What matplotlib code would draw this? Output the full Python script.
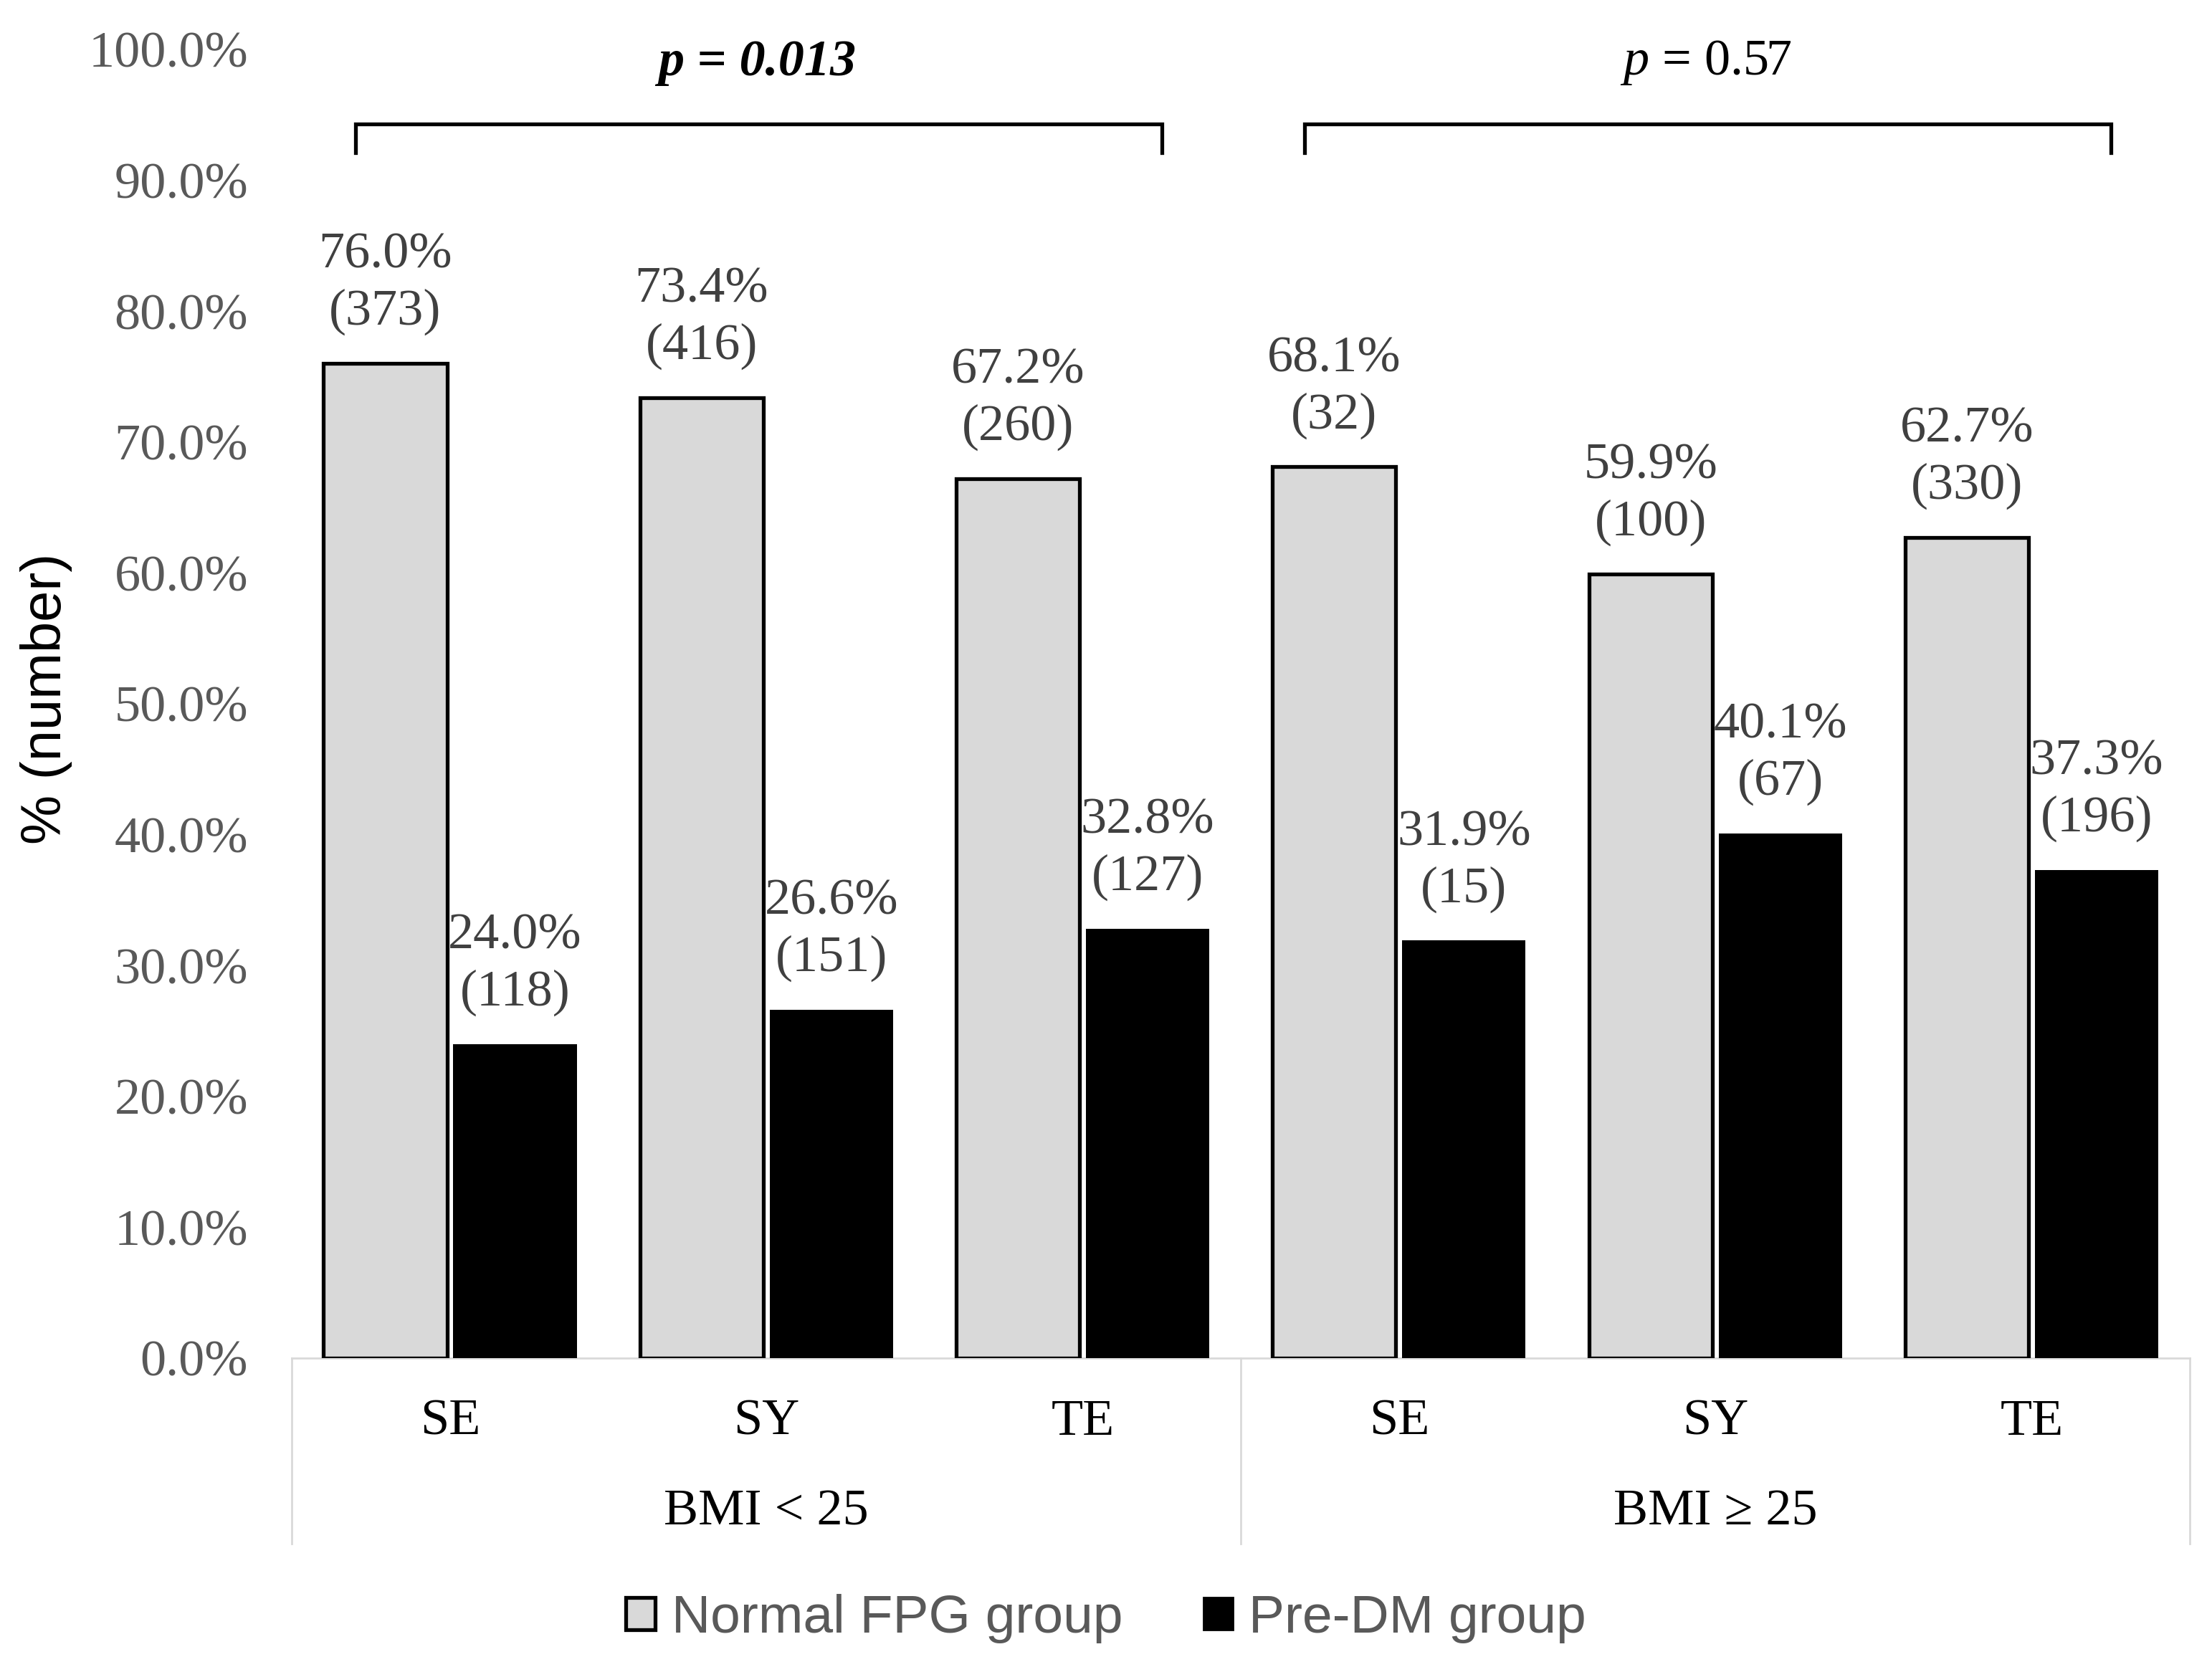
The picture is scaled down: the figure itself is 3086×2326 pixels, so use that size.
import matplotlib.pyplot as plt
from matplotlib.patches import Patch

# datos
grupos = ['BMI < 25', 'BMI \u2265 25']
categorias = ['SE', 'SY', 'TE', 'SE', 'SY', 'TE']
normal_pct = [76.0, 73.4, 67.2, 68.1, 59.9, 62.7]
normal_n = [373, 416, 260, 32, 100, 330]
predm_pct = [24.0, 26.6, 32.8, 31.9, 40.1, 37.3]
predm_n = [118, 151, 127, 15, 67, 196]
p_valores = ['0.013', '0.57']
p_significativo = [True, False]

SERIF = 'Liberation Serif'
SANS = 'Liberation Sans'
GRIS = '#d9d9d9'
plt.rcParams['mathtext.fontset'] = 'custom'
plt.rcParams['mathtext.rm'] = SERIF
plt.rcParams['mathtext.it'] = SERIF + ':italic'

fig = plt.figure(figsize=(15.43, 11.63), dpi=200, facecolor='white')
ax = fig.add_axes([0.132, 0.1853, 0.858, 0.7851])

x = list(range(len(categorias)))
ancho = 0.39
desp = 0.205
TAM = 26

ax.bar([i - desp for i in x], normal_pct, width=ancho, color=GRIS,
       edgecolor='black', linewidth=1.9, zorder=3)
ax.bar([i + desp for i in x], predm_pct, width=ancho, color='black',
       edgecolor='none', zorder=3)

# etiquetas de datos
for i in x:
    ax.annotate(f"{normal_pct[i]:.1f}%\n({normal_n[i]})", (i - desp, normal_pct[i]),
                xytext=(0, 14), textcoords='offset points', ha='center', va='bottom',
                fontsize=TAM, family=SERIF, color='#404040', linespacing=1.28)
    ax.annotate(f"{predm_pct[i]:.1f}%\n({predm_n[i]})", (i + desp, predm_pct[i]),
                xytext=(0, 14), textcoords='offset points', ha='center', va='bottom',
                fontsize=TAM, family=SERIF, color='#404040', linespacing=1.28)

ax.set_xlim(-0.5, len(categorias) - 0.5)
ax.set_ylim(0, 100)
ax.set_yticks(range(0, 101, 10))
ax.set_yticklabels([f"{v:.1f}%" for v in range(0, 101, 10)])
ax.tick_params(axis='y', length=0, pad=22, labelsize=TAM, labelcolor='#595959')
for lab in ax.get_yticklabels():
    lab.set_family(SERIF)
ax.set_xticks([])
for s in ['top', 'right', 'left']:
    ax.spines[s].set_visible(False)
ax.spines['bottom'].set_color(GRIS)
ax.spines['bottom'].set_linewidth(1.0)

# ejes de categorias agrupadas
trans = ax.get_xaxis_transform()
for sep in [-0.5, 2.5, 5.5]:
    ax.plot([sep, sep], [0, -0.142], transform=trans, color=GRIS, lw=1.0, clip_on=False)
for i, c in enumerate(categorias):
    ax.text(i, -0.049, c, transform=trans, ha='center', va='center',
            fontsize=TAM, family=SERIF, color='black')
for g, nombre in enumerate(grupos):
    ax.text(g * 3 + 1, -0.118, nombre, transform=trans, ha='center', va='center',
            fontsize=TAM, family=SERIF, color='black')

# corchetes y valores p
for g in range(len(grupos)):
    izq = g * 3 - 0.3
    der = g * 3 + 2.25
    ax.plot([izq, izq, der, der], [92.1, 94.3, 94.3, 92.1], color='black', lw=1.9,
            clip_on=False, solid_joinstyle='miter')
    cx = (izq + der) / 2 - 0.005
    if p_significativo[g]:
        ax.text(cx, 99.0, f"p = {p_valores[g]}", ha='center', va='center', fontsize=TAM,
                family=SERIF, style='italic', weight='bold', color='black')
    else:
        ax.text(cx, 99.0, f"$p$ = {p_valores[g]}", ha='center', va='center',
                fontsize=TAM, family=SERIF, color='black')

fig.text(0.021, 0.581, '% (number)', rotation=90, ha='center', va='center',
         fontsize=28, family=SANS, color='black')

handles = [Patch(facecolor=GRIS, edgecolor='black', linewidth=1.9),
           Patch(facecolor='black', edgecolor='black')]
leg = fig.legend(handles, ['Normal FPG group', 'Pre-DM group'], loc='center',
                 bbox_to_anchor=(0.5, 0.029), ncol=2, frameon=False,
                 handlelength=0.55, handleheight=0.55, handletextpad=0.3,
                 columnspacing=1.5, prop={'family': SANS, 'size': 27})
for t in leg.get_texts():
    t.set_color('#595959')

plt.savefig('out.png', facecolor='white')
